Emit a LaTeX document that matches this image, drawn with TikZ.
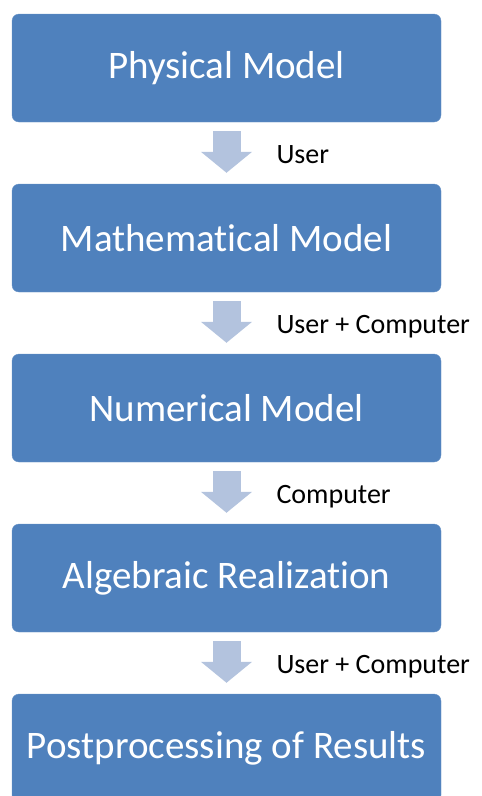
\documentclass[tikz,border=0pt]{standalone}
\usepackage{fontspec}
\setmainfont{Carlito}[Ligatures={NoCommon}]
\usepackage{tikz}
\usetikzlibrary{arrows.meta,positioning}
\definecolor{boxblue}{HTML}{4F81BD}
\definecolor{arrowblue}{HTML}{B3C3DE}

\tikzset{
  stage/.style={fill=boxblue,draw=boxblue!85!white,rounded corners=7pt,minimum width=429pt,
    minimum height=108pt,inner sep=0pt,text=white,font=\fontsize{39}{41}\selectfont},
  flow/.style={line width=28pt,draw=arrowblue,-{Triangle[length=21pt,width=50pt,fill=arrowblue]},
    shorten <=9pt,shorten >=11pt},
  who/.style={midway,anchor=base west,inner sep=0pt,outer sep=0pt,xshift=50pt,yshift=-10pt,
    text=black,font=\fontsize{28}{30}\selectfont}
}

\begin{document}
\begin{tikzpicture}[x=1pt,y=1pt]
\useasboundingbox (0,0) rectangle (482,-796);
\node[stage] (phys) at (226.5,-68) {Physical Model};
\node[stage] (math) at (226.5,-238) {Mathematical Model};
\node[stage] (num) at (226.5,-408) {Numerical Model};
\node[stage] (alg) at (226.5,-578) {Algebraic Realization};
\node[stage] (post) at (226.5,-748) {Postprocessing of Results};
\draw[flow] (phys.south) -- (math.north) node[who] {User};
\draw[flow] (math.south) -- (num.north) node[who] {User + Computer};
\draw[flow] (num.south) -- (alg.north) node[who] {Computer};
\draw[flow] (alg.south) -- (post.north) node[who] {User + Computer};
\end{tikzpicture}
\end{document}
